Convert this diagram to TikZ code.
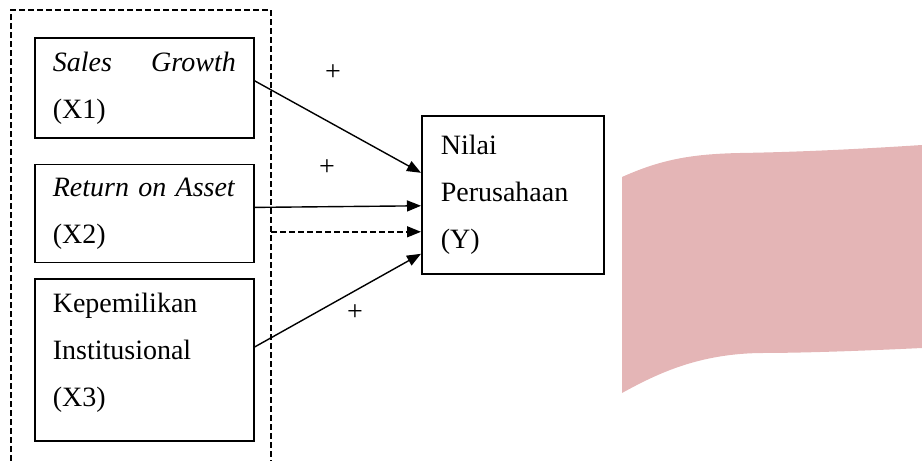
\documentclass[tikz,border=0pt]{standalone}
\usepackage{fontspec}
\setmainfont{Liberation Serif}
\usetikzlibrary{arrows.meta}
\usetikzlibrary{positioning}
\definecolor{flagpink}{RGB}{228,181,182}
\tikzset{
  Kasten/.style={draw, line width=0.8pt, anchor=north west,
    minimum width=109.5pt, minimum height=#1, inner xsep=9pt, inner ysep=0pt,
    text width=91.5pt, align=left, font=\fontsize{14}{23.5}\selectfont}, % Variablenkasten
  Pfeil/.style={line width=0.7pt, -{Triangle[length=7pt,width=5.5pt]}}, % Einflusspfeile
  Zeichen/.style={font=\fontsize{14}{16}\selectfont, inner sep=0pt} % Vorzeichen
}
\begin{document}
\begin{tikzpicture}[x=0.5pt, y=-0.5pt]
\useasboundingbox (0,0) rectangle (922,461);

%Fahne
\fill[flagpink] (622,177) .. controls (660,160) and (690,154) .. (740,153)
  .. controls (800,152) and (860,149) .. (922,145) -- (922,348)
  .. controls (860,351) and (800,353) .. (760,353)
  .. controls (700,354) and (660,372) .. (622,393) -- cycle;

%Rahmen
\coordinate (frameNW) at (11,10);
\coordinate (frameNE) at (271,10);
\draw[line width=0.6pt, dash pattern=on 3pt off 1.5pt]
  (11,461) -- (frameNW) -- (frameNE) -- (271,461);

%Kaesten
\node[Kasten=50pt] (x1) at (34,37) {\textit{Sales}\hfill\textit{Growth}\\(X1)};
\node[Kasten=49pt, below=12.5pt of x1] (x2) {\textit{Return on Asset}\\(X2)};
\node[Kasten=81pt, below=7.5pt of x2] (x3)
  {Kepemilikan\\Institusional\\(X3)\rule[-10pt]{0pt}{0pt}};
\node[Kasten=79pt, minimum width=91pt, inner xsep=9.5pt, text width=72pt]
  (y) at (421,115) {Nilai\\Perusahaan\\(Y)};

%Pfeile
\draw[Pfeil] ([yshift=3.5pt]x1.east) -- ([yshift=11pt]y.west);
\draw[Pfeil] ([yshift=3pt]x2.east) -- ([yshift=-5.5pt]y.west);
\draw[Pfeil] ([yshift=6.5pt]x3.east) -- ([yshift=-29.5pt]y.west);
\coordinate (dashend) at ([yshift=-18.5pt]y.west);
\draw[Pfeil, dash pattern=on 3pt off 1.5pt] (frameNE |- dashend) -- (dashend);

%Vorzeichen
\node[Zeichen] (plus1) at (333,73) {+};
\node[Zeichen] (plus2) at (327,168) {+};
\node[Zeichen] (plus3) at (355,313) {+};

\end{tikzpicture}
\end{document}
